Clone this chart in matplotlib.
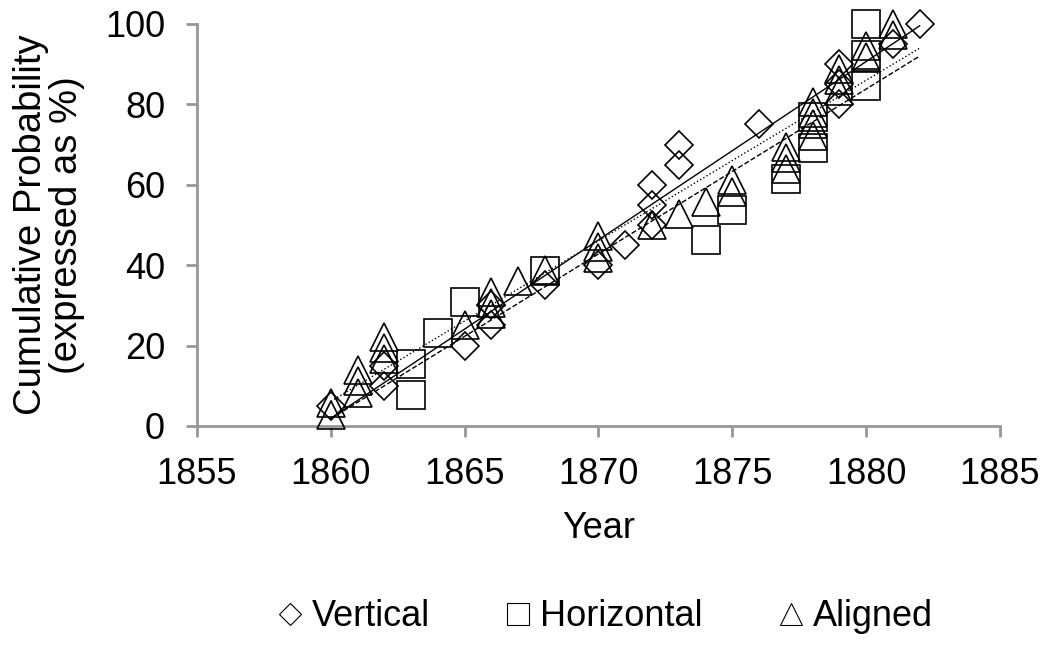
import matplotlib

matplotlib.use("Agg")
import matplotlib.pyplot as plt
import numpy as np
from matplotlib.lines import Line2D

plt.rcParams["font.family"] = ["Liberation Sans", "DejaVu Sans"]

# cumulative probability (%) per year
years_vertical = [1860, 1862, 1862, 1865, 1866, 1866, 1868, 1870, 1871, 1872,
                  1872, 1872, 1873, 1873, 1876, 1879, 1879, 1879, 1881, 1882]
prob_vertical = [5, 10, 15, 20, 25, 30, 35, 40, 45, 50,
                 55, 60, 65, 70, 75, 80, 85, 90, 95, 100]

years_horizontal = [1863, 1863, 1864, 1865, 1868, 1874, 1875, 1877, 1878, 1878,
                    1880, 1880, 1880]
prob_horizontal = [7.7, 15.4, 23.1, 30.8, 38.5, 46.2, 53.8, 61.5, 69.2, 76.9,
                   84.6, 92.3, 100]

years_aligned = [1860, 1860, 1861, 1861, 1861, 1862, 1862, 1862, 1865, 1866,
                 1866, 1866, 1867, 1868, 1870, 1870, 1870, 1872, 1873, 1874,
                 1875, 1875, 1877, 1877, 1877, 1878, 1878, 1878, 1878, 1879,
                 1879, 1879, 1880, 1880, 1881, 1881]
prob_aligned = [2.8, 5.6, 8.3, 11.1, 13.9, 16.7, 19.4, 22.2, 25.0, 27.8,
                30.6, 33.3, 36.1, 38.9, 41.7, 44.4, 47.2, 50.0, 52.8, 55.6,
                58.3, 61.1, 63.9, 66.7, 69.4, 72.2, 75.0, 77.8, 80.6, 83.3,
                86.1, 88.9, 91.7, 94.4, 97.2, 100]

series = [
    ("Vertical", years_vertical, prob_vertical, "D", 14.3, "-"),
    ("Horizontal", years_horizontal, prob_horizontal, "s", 20, "--"),
    ("Aligned", years_aligned, prob_aligned, "^", 20, ":"),
]
trend_span = np.array([1860, 1882])
axis_grey = "#979797"

fig = plt.figure(figsize=(10.46, 6.46), dpi=100)
ax = fig.add_axes([0.1883, 0.3406, 0.7677, 0.6223])

for name, xs, ys, marker, ms, ls in series:
    ax.plot(xs, ys, linestyle="none", marker=marker, markersize=ms,
            markerfacecolor="none", markeredgecolor="black", markeredgewidth=1.2,
            clip_on=False, zorder=3)
    # linear trend line, as in the original spreadsheet chart
    slope, icpt = np.polyfit(xs, ys, 1)
    ax.plot(trend_span, slope * trend_span + icpt, color="black", lw=1.0,
            linestyle=ls, zorder=2)

ax.set_xlim(1855, 1885)
ax.set_ylim(0, 100)
ax.set_xticks(range(1855, 1886, 5))
ax.set_yticks(range(0, 101, 20))

for side in ("top", "right"):
    ax.spines[side].set_visible(False)
for side in ("left", "bottom"):
    ax.spines[side].set_color(axis_grey)
    ax.spines[side].set_linewidth(2.0)
ax.tick_params(axis="both", direction="out", length=8, width=2.0, color=axis_grey,
               labelsize=26)
ax.tick_params(axis="x", pad=14)
ax.tick_params(axis="y", pad=15)

ax.set_xlabel("Year", fontsize=26, labelpad=14)
ax.set_ylabel("Cumulative Probability\n(expressed as %)", fontsize=27.5,
              labelpad=14, linespacing=1.0)

handles = [
    Line2D([], [], linestyle="none", marker="D", markersize=10.7,
           markerfacecolor="none", markeredgecolor="black", markeredgewidth=0.8),
    Line2D([], [], linestyle="none", marker="s", markersize=16,
           markerfacecolor="none", markeredgecolor="black", markeredgewidth=0.8),
    Line2D([], [], linestyle="none", marker="^", markersize=16.5,
           markerfacecolor="none", markeredgecolor="black", markeredgewidth=0.8),
]
fig.legend(handles, [s[0] for s in series], loc="center", ncol=3,
           bbox_to_anchor=(0.5774, 0.045), frameon=False, fontsize=26,
           handlelength=0.8, handletextpad=0.2, columnspacing=2.05,
           borderaxespad=0)

fig.savefig("out.png", dpi=100)
